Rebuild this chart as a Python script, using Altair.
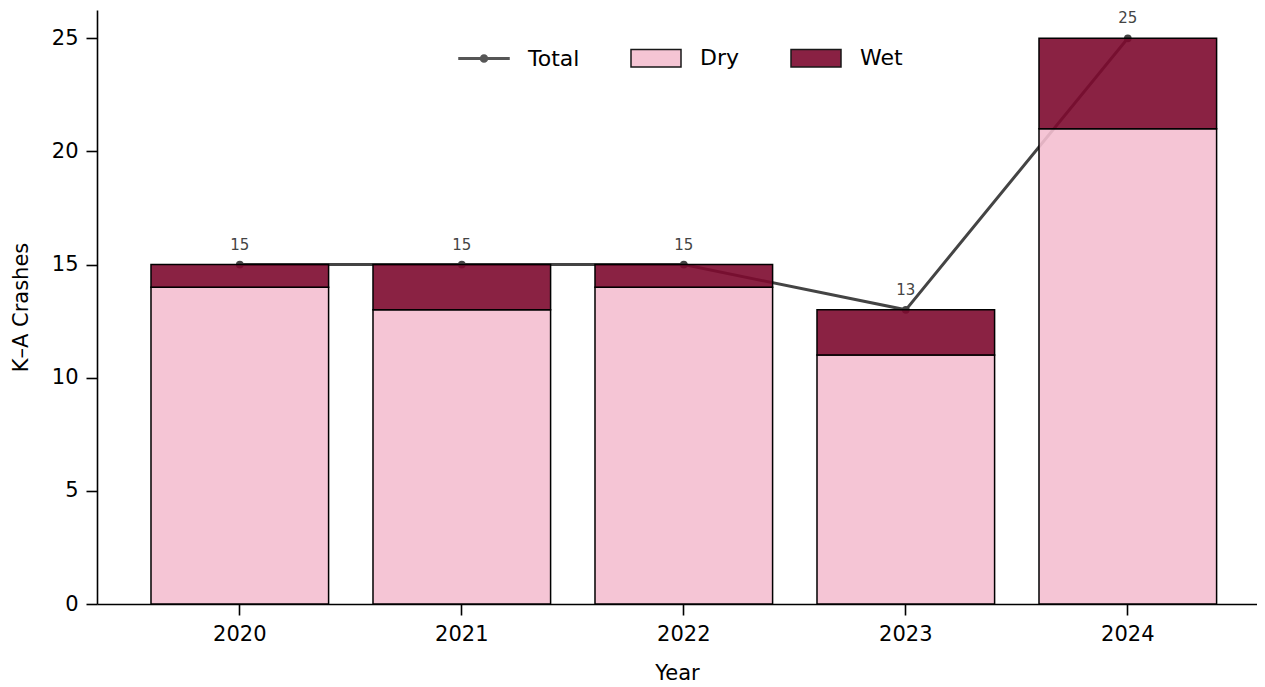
import altair as alt
import pandas as pd

years = ["2020", "2021", "2022", "2023", "2024"]
dry = [14, 13, 14, 11, 21]
wet = [1, 2, 1, 2, 4]
total = [15, 15, 15, 13, 25]

series_names = ["Total", "Dry", "Wet"]
series_colors = ["#444444", "#f4bfd0", "#7d0a2f"]
series_strokes = ["#444444", "black", "black"]

rows = []
for y, d, w in zip(years, dry, wet):
    rows.append({"year": y, "series": "Dry", "value": d, "order": 0})
    rows.append({"year": y, "series": "Wet", "value": w, "order": 1})
bars_df = pd.DataFrame(rows)
tot_df = pd.DataFrame({"year": years, "total": total})

FONT = "DejaVu Sans"
TOTAL_PATH = ("M-1,-0.03L1,-0.03L1,0.03L-1,0.03Z "
              "M0.14,0A0.14,0.14,0,1,1,-0.14,0A0.14,0.14,0,1,1,0.14,0Z")
RECT_PATH = "M-1,-0.35L1,-0.35L1,0.35L-1,0.35Z"

x_enc = alt.X(
    "year:O",
    sort=years,
    scale=alt.Scale(paddingInner=0.2, paddingOuter=0.2126, align=0.572),
    axis=alt.Axis(title="Year", labelAngle=0, titlePadding=18),
)
y_scale = alt.Scale(domain=[0, 26.25], nice=False, zero=True)

color_scale = alt.Scale(domain=series_names, range=series_colors)
shape_scale = alt.Scale(domain=series_names, range=[TOTAL_PATH, RECT_PATH, RECT_PATH])
stroke_scale = alt.Scale(domain=series_names, range=series_strokes)

legend = alt.Legend(
    title=None,
    orient="none",
    direction="horizontal",
    legendX=361,
    legendY=22,
    padding=0,
    symbolSize=2500,
    symbolStrokeColor="black",
    symbolStrokeWidth=1.5,
    symbolOpacity=0.9,
    labelFontSize=22,
    labelOffset=18,
    columnPadding=48,
    labelColor="black",
    labelFont=FONT,
)

line = alt.Chart(tot_df).mark_line(color="#444444", strokeWidth=3).encode(
    x=x_enc,
    y=alt.Y("total:Q", scale=y_scale),
)
pts = alt.Chart(tot_df).mark_circle(color="#444444", size=60, opacity=1).encode(
    x=x_enc,
    y=alt.Y("total:Q", scale=y_scale),
)

bars = alt.Chart(bars_df).mark_bar(
    stroke="black", strokeWidth=1.5, fillOpacity=0.9
).encode(
    x=x_enc,
    y=alt.Y(
        "value:Q",
        stack="zero",
        scale=y_scale,
        axis=alt.Axis(title="K–A Crashes", values=[0, 5, 10, 15, 20, 25], titlePadding=20),
    ),
    color=alt.Color("series:N", scale=color_scale, legend=legend),
    order=alt.Order("order:Q", sort="ascending"),
)

# legend-only layer (no rows drawn)
leg = alt.Chart(bars_df).transform_filter("datum.value < 0").mark_point(
    filled=True, strokeWidth=1.5
).encode(
    x=x_enc,
    y=alt.Y("value:Q", scale=y_scale),
    color=alt.Color("series:N", scale=color_scale, legend=legend),
    shape=alt.Shape("series:N", scale=shape_scale, legend=legend),
    stroke=alt.Stroke("series:N", scale=stroke_scale, legend=legend),
)

labels = alt.Chart(tot_df).mark_text(
    dy=-20, fontSize=15, color="#444444", font=FONT
).encode(
    x=x_enc,
    y=alt.Y("total:Q", scale=y_scale),
    text=alt.Text("total:Q"),
)

chart = alt.layer(line, pts, bars, labels, leg).properties(
    width=1160,
    height=594,
    autosize=alt.AutoSizeParams(type="none"),
    padding={"left": 89, "top": 2, "right": 0, "bottom": 79},
).configure(
    font=FONT,
).configure_view(
    stroke=None,
).configure_axis(
    grid=False,
    domainColor="black",
    domainWidth=1.6,
    tickColor="black",
    tickWidth=1.6,
    tickSize=11,
    labelPadding=8,
    labelFontSize=21,
    labelColor="black",
    labelFont=FONT,
    titleFont=FONT,
    titleFontSize=21,
    titleFontWeight="normal",
    titleColor="black",
)

chart.save("out.html", embed_options={"renderer": "svg", "actions": False})
